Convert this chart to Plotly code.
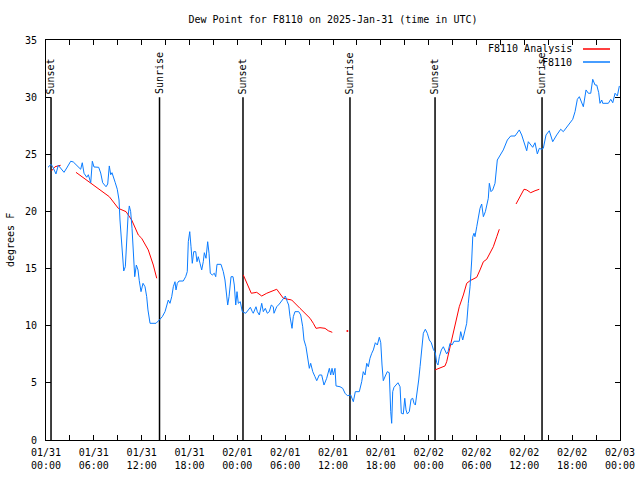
import pandas as pd
import plotly.graph_objects as go

BASE = pd.Timestamp("2025-01-31 00:00")

# Station observations (hours since 01/31 00:00 UTC, dew point in F)
obs_hours = [0.25, 0.63, 0.84, 1.25, 1.54, 1.84, 2.26, 2.60, 3.10, 3.42, 4.18, 4.35, 4.55, 4.77, 5.11, 5.31, 5.61, 5.81,
             6.02, 6.61, 6.86, 7.11, 7.53, 7.74, 7.94, 8.12, 8.28, 8.44, 8.69, 8.94, 9.16, 9.28, 9.45, 9.62, 9.75, 9.95,
             10.12, 10.29, 10.45, 10.62, 10.79, 10.95, 11.13, 11.33, 11.54, 11.70, 11.92, 12.17, 12.42, 12.63, 12.79,
             13.05, 13.80, 14.21, 14.59, 14.93, 15.14, 15.34, 15.55, 15.77, 15.97, 16.18, 16.31, 16.47, 16.68, 17.22,
             17.52, 17.72, 17.85, 18.03, 18.19, 18.35, 18.53, 18.78, 18.94, 19.10, 19.32, 19.53, 19.73, 19.86, 20.07,
             20.28, 20.45, 20.61, 20.86, 21.11, 21.29, 21.45, 21.95, 22.24, 22.45, 22.62, 22.79, 22.96, 23.21, 23.46,
             23.62, 23.80, 23.96, 24.12, 24.37, 24.62, 25.05, 25.38, 25.63, 25.88, 26.00, 26.34, 26.51, 26.76, 27.06,
             27.26, 27.51, 27.76, 28.01, 28.26, 28.51, 28.60, 28.94, 29.27, 29.69, 30.02, 30.27, 30.44, 30.61, 30.86,
             31.02, 31.23, 31.70, 31.95, 32.20, 32.36, 32.61, 32.87, 33.03, 33.20, 33.46, 33.74, 33.96, 34.28, 34.58,
             34.87, 35.21, 35.54, 35.71, 35.88, 36.04, 36.25, 36.38, 36.88, 37.22, 37.51, 37.80, 38.22, 38.55, 38.80,
             39.30, 39.60, 39.80, 40.02, 40.23, 40.43, 40.64, 40.86, 41.06, 41.31, 41.56, 41.81, 41.99, 42.15, 42.31,
             42.56, 42.81, 43.06, 43.15, 43.24, 43.36, 43.49, 43.65, 43.90, 44.15, 44.41, 44.57, 44.82, 45.00, 45.16,
             45.32, 45.57, 45.79, 46.00, 46.16, 46.33, 46.50, 46.75, 46.92, 47.08, 47.33, 47.58, 47.83, 48.08, 48.33,
             48.58, 48.83, 49.01, 49.17, 49.34, 49.59, 49.84, 50.09, 50.26, 50.43, 50.68, 50.93, 51.18, 51.84, 52.02,
             52.27, 52.52, 52.77, 52.97, 53.19, 53.40, 53.53, 53.69, 53.81, 54.03, 54.23, 54.44, 54.65, 54.86, 55.11,
             55.28, 55.48, 55.61, 55.82, 56.03, 56.32, 56.61, 56.95, 57.36, 57.87, 58.29, 58.83, 59.12, 59.37, 59.67,
             59.96, 60.30, 60.50, 60.80, 61.05, 61.34, 61.63, 61.88, 62.18, 62.38, 62.72, 63.13, 63.56, 64.06, 64.56,
             64.89, 65.32, 66.07, 66.36, 66.65, 66.90, 67.20, 67.40, 67.74, 68.03, 68.33, 68.58, 68.87, 69.08, 69.33,
             69.49, 69.71, 69.83, 70.54, 70.84, 71.09, 71.38, 71.67, 71.92]
obs_dewpt = [23.86, 24.12, 23.91, 23.28, 24.04, 23.77, 23.42, 23.80, 24.39, 24.33, 23.80, 23.69, 24.26, 23.34, 22.99,
             23.21, 22.51, 24.39, 23.89, 23.86, 23.36, 22.51, 22.16, 22.40, 23.98, 23.21, 23.39, 23.10, 22.51, 21.94,
             21.00, 19.25, 17.50, 15.75, 14.79, 15.16, 17.50, 19.54, 20.48, 19.98, 18.52, 16.34, 14.29, 15.31, 14.88,
             13.94, 12.98, 13.71, 13.41, 12.54, 11.38, 10.21, 10.21, 10.50, 10.79, 11.23, 11.81, 12.25, 11.96, 12.54,
             13.41, 13.85, 13.13, 13.71, 13.91, 13.91, 14.29, 14.73, 17.35, 18.23, 16.91, 15.46, 16.48, 16.48, 15.60,
             16.04, 15.46, 14.88, 15.60, 16.39, 15.90, 17.35, 16.34, 14.59, 14.44, 14.59, 14.29, 15.37, 15.37, 14.73,
             14.00, 12.98, 11.81, 12.54, 14.29, 14.29, 13.56, 11.81, 12.98, 11.96, 12.10, 11.23, 11.09, 11.38, 11.61,
             11.23, 11.09, 11.66, 11.23, 10.94, 11.96, 11.23, 11.52, 11.09, 11.23, 11.81, 11.66, 11.09, 11.66, 11.90,
             12.25, 12.60, 12.10, 11.81, 10.79, 9.77, 10.79, 11.23, 11.23, 10.94, 9.91, 8.75, 8.16, 6.71, 6.27, 6.71,
             5.98, 5.54, 5.19, 5.69, 5.69, 4.81, 5.40, 6.27, 5.69, 6.27, 5.69, 6.27, 4.73, 4.66, 4.52, 4.09, 3.88,
             3.94, 3.35, 4.23, 4.23, 5.10, 5.98, 5.69, 6.71, 6.41, 7.15, 7.59, 7.88, 8.51, 8.31, 8.99, 8.51, 6.56,
             5.19, 5.60, 5.98, 5.89, 3.50, 2.48, 1.46, 4.23, 4.61, 4.81, 5.01, 4.66, 2.34, 2.28, 3.65, 2.63, 2.28,
             2.48, 3.56, 3.65, 3.21, 3.06, 3.79, 5.25, 6.41, 7.88, 9.34, 9.69, 9.34, 8.75, 8.51, 7.94, 7.64, 6.76,
             6.56, 7.29, 7.88, 8.16, 7.73, 7.53, 7.73, 8.46, 8.31, 8.64, 8.64, 9.48, 8.75, 9.48, 10.21, 11.96, 13.41,
             15.75, 17.79, 18.09, 17.79, 18.66, 19.40, 20.27, 20.65, 19.54, 19.98, 20.41, 21.15, 22.46, 21.73, 21.88,
             22.46, 24.50, 24.85, 25.38, 26.25, 26.60, 26.60, 26.84, 27.13, 26.69, 26.10, 25.31, 26.10, 25.81, 25.61,
             26.01, 25.03, 25.52, 25.44, 25.52, 26.69, 27.06, 26.10, 26.69, 27.19, 26.98, 27.41, 28.06, 28.73, 29.81,
             30.04, 29.60, 29.16, 30.63, 30.34, 30.34, 31.56, 31.06, 31.06, 30.39, 29.46, 29.75, 29.46, 29.46, 29.81,
             29.51, 30.34, 30.10, 30.98]

# Analysis series (None marks gaps)
ana_hours = [0.72, 1.13, 1.84, None,
             3.76, 5.52, 6.77, 7.94, 9.07, 10.04, 10.75, 11.58, 12.00, 12.83, 13.46, 13.89, None,
             24.75, 25.25, 25.75, 26.43, 27.06, 27.69, 28.51, 28.94, 29.77, 30.82, 31.86, 32.49, 33.12, 33.53,
             33.87, 34.37, 35.00, 35.41, 35.91, None,
             48.80, 49.42, 50.05, 50.26, 50.68, 51.09, 51.52, 51.84, 52.35, 52.77, 53.19, 53.60, 54.03, 54.44,
             54.86, 55.28, 55.70, 56.11, 56.54, 56.86, None,
             58.96, 59.46, 59.96, 60.30, 60.80, 61.34, 61.88]
ana_dewpt = [23.56, 23.91, 24.04, None,
             23.42, 22.51, 21.88, 21.29, 20.27, 19.98, 19.25, 17.94, 17.65, 16.63, 15.31, 14.15, None,
             14.44, 13.56, 12.84, 12.92, 12.60, 12.84, 13.04, 13.19, 12.40, 12.25, 11.52, 11.09, 10.65, 10.21,
             9.77, 9.83, 9.77, 9.56, 9.42, None,
             6.13, 6.27, 6.48, 6.85, 8.16, 9.34, 10.50, 11.66, 12.69, 13.71, 13.94, 14.06, 14.24, 14.88,
             15.60, 15.81, 16.34, 16.91, 17.79, 18.44, None,
             20.65, 21.29, 21.94, 21.88, 21.64, 21.81, 21.94]
ana_single_hours = [37.80]
ana_single_dewpt = [9.54]

# Sun events
event_hours = [0.63, 14.24, 24.71, 38.13, 48.80, 62.22]
event_labels = ["Sunset", "Sunrise", "Sunset", "Sunrise", "Sunset", "Sunrise"]

tick_hours = list(range(0, 73, 3))
tick_labels = [(BASE + pd.Timedelta(hours=h)).strftime("%m/%d<br>%H:%M") if h % 6 == 0 else "" for h in tick_hours]


def to_time(hours):
    return [None if h is None else BASE + pd.Timedelta(hours=h) for h in hours]


FONT = "DejaVu Sans Mono"
RED = "#ff0000"
BLUE = "#0a7cff"

fig = go.Figure()

for h in event_hours:
    t = BASE + pd.Timedelta(hours=h)
    fig.add_trace(go.Scatter(x=[t, t], y=[0, 30.0], mode="lines",
                             line=dict(color="black", width=1.5), showlegend=False, hoverinfo="skip"))

fig.add_trace(go.Scatter(x=to_time(ana_hours), y=ana_dewpt, mode="lines", name="F8110 Analysis",
                         line=dict(color=RED, width=1), connectgaps=False, showlegend=False))
fig.add_trace(go.Scatter(x=to_time(ana_single_hours), y=ana_single_dewpt, mode="markers",
                         marker=dict(color=RED, size=2), showlegend=False))
fig.add_trace(go.Scatter(x=to_time(obs_hours), y=obs_dewpt, mode="lines", name="F8110",
                         line=dict(color=BLUE, width=1), showlegend=False))

for h, lab in zip(event_hours, event_labels):
    fig.add_annotation(x=BASE + pd.Timedelta(hours=h), y=30.05, text=lab, textangle=-90,
                       showarrow=False, xanchor="center", yanchor="bottom",
                       font=dict(family=FONT, size=10, color="black"))

# gnuplot-style legend (text right-aligned, sample line on the right)
legend_items = [("F8110 Analysis", RED, 0.9775), ("F8110", BLUE, 0.945)]
for name, col, yy in legend_items:
    fig.add_annotation(xref="paper", yref="paper", x=0.9199, y=yy, text=name, showarrow=False,
                       xanchor="right", yanchor="middle", font=dict(family=FONT, size=10, color="black"))
    fig.add_shape(type="line", xref="paper", yref="paper", x0=0.9355, x1=0.9826, y0=yy, y1=yy,
                  line=dict(color=col, width=1.5))

fig.add_annotation(xref="paper", yref="paper", x=-0.0627, y=0.5, text="degrees F", textangle=-90,
                   showarrow=False, xanchor="center", yanchor="middle",
                   font=dict(family=FONT, size=10, color="black"))

fig.update_layout(
    width=640, height=480,
    margin=dict(l=46, r=20, t=40, b=40, autoexpand=False),
    paper_bgcolor="white", plot_bgcolor="white",
    title=dict(text="Dew Point for F8110 on 2025-Jan-31 (time in UTC)", x=0.5, xref="paper",
               y=0.96, yref="container", yanchor="middle", automargin=False,
               font=dict(family=FONT, size=10, color="black")),
    font=dict(family=FONT, size=10, color="black"),
    showlegend=False,
)
fig.update_xaxes(range=[BASE, BASE + pd.Timedelta(hours=72)],
                 tickvals=to_time(tick_hours), ticktext=tick_labels, automargin=False,
                 ticks="inside", ticklen=5, tickcolor="black", showgrid=False, zeroline=False,
                 showline=True, linecolor="black", linewidth=1, mirror="ticks",
                 ticklabelstandoff=3, tickfont=dict(family=FONT, size=10))
fig.update_yaxes(range=[0, 35], tickvals=[0, 5, 10, 15, 20, 25, 30, 35], automargin=False,
                 ticks="inside", ticklen=5, tickcolor="black", showgrid=False, zeroline=False,
                 showline=True, linecolor="black", linewidth=1, mirror="ticks",
                 ticklabelstandoff=6, tickfont=dict(family=FONT, size=10))

fig.write_html("out.html", config={"displayModeBar": False},
               post_script="document.body.style.margin='0';document.body.style.padding='0';")
